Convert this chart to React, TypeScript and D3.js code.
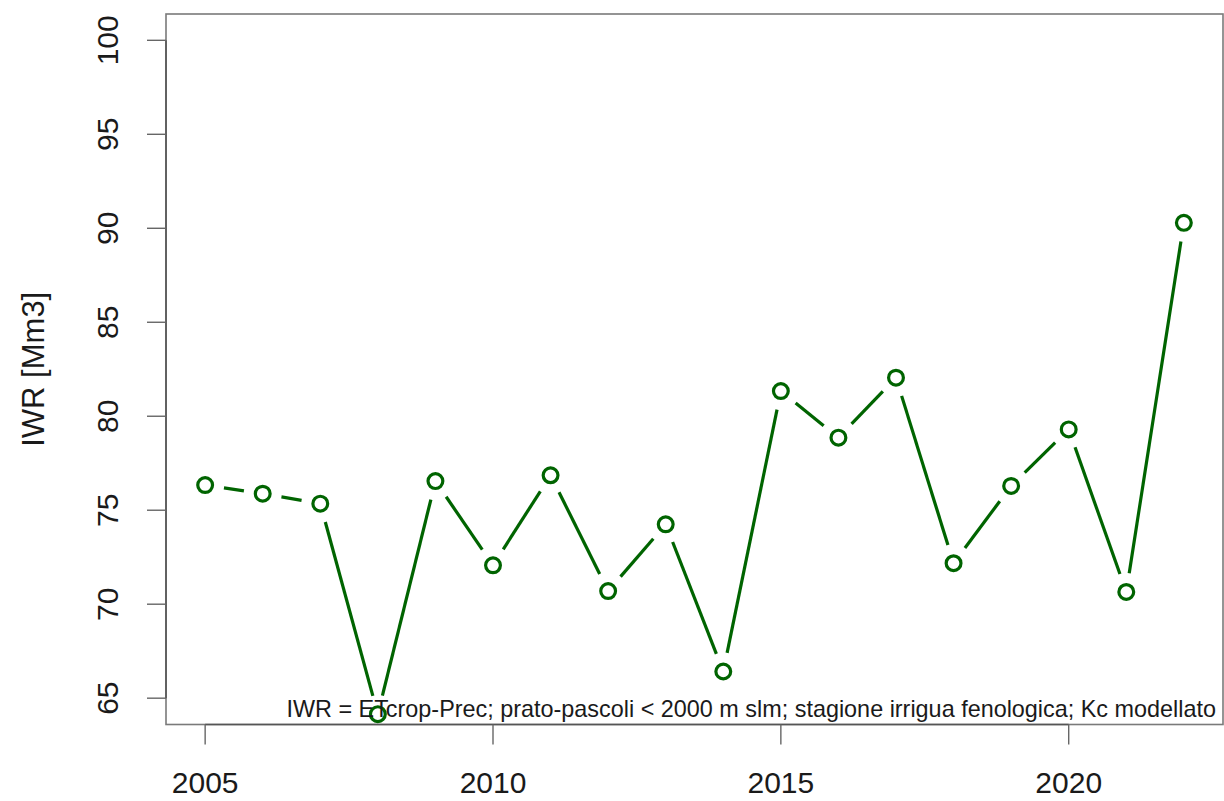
import React from "react";
import * as d3 from "d3";

const years = [2005, 2006, 2007, 2008, 2009, 2010, 2011, 2012, 2013, 2014, 2015, 2016, 2017, 2018, 2019, 2020, 2021, 2022];
const iwr = [76.34, 75.88, 75.35, 64.15, 76.55, 72.07, 76.86, 70.7, 74.25, 66.42, 81.34, 78.86, 82.05, 72.18, 76.29, 79.3, 70.65, 90.29];
const xTicks = [2005, 2010, 2015, 2020];
const yTicks = [65, 70, 75, 80, 85, 90, 95, 100];
const yLabel = "IWR [Mm3]";
const note = "IWR = ETcrop-Prec; prato-pascoli < 2000 m slm; stagione irrigua fenologica; Kc modellato";

const W = 1224;
const H = 801;
const left = 166;
const right = 1223;
const top = 14;
const bottom = 724.5;
const font = "'Liberation Sans', Arial, Helvetica, sans-serif";
const green = "#006400";

export default function App() {
  const xPad = (2022 - 2005) * 0.04;
  const x = d3.scaleLinear().domain([2005 - xPad, 2022 + xPad]).range([left, right]);
  const yPad = (100 - 65) * 0.04;
  const y = d3.scaleLinear().domain([65 - yPad, 100 + yPad]).range([bottom, top]);

  const pts = years.map((yr, i) => [x(yr), y(iwr[i])] as [number, number]);
  const gap = 19;
  const segs: [number, number, number, number][] = [];
  for (let i = 0; i < pts.length - 1; i++) {
    const [x0, y0] = pts[i];
    const [x1, y1] = pts[i + 1];
    const dx = x1 - x0, dy = y1 - y0;
    const len = Math.hypot(dx, dy);
    if (len <= 2 * gap) continue;
    const ux = dx / len, uy = dy / len;
    segs.push([x0 + ux * gap, y0 + uy * gap, x1 - ux * gap, y1 - uy * gap]);
  }

  return (
    <svg width={W} height={H} style={{ position: "absolute", left: 0, top: 0, background: "#fff" }} fontFamily={font}>
      <rect x={0} y={0} width={W} height={H} fill="#fff" />
      {/* plot box */}
      <rect x={left} y={top} width={right - left} height={bottom - top} fill="none" stroke="#7a7a7a" strokeWidth={1.6} />
      {/* y axis */}
      <line x1={left} x2={left} y1={y(65)} y2={y(100)} stroke="#555" strokeWidth={1.6} />
      {yTicks.map((t) => (
        <g key={t}>
          <line x1={left - 19} x2={left} y1={y(t)} y2={y(t)} stroke="#666" strokeWidth={1.4} />
          <text
            transform={`translate(${118},${y(t)}) rotate(-90)`}
            textAnchor="middle"
            fontSize={30}
            fill="#1a1a1a"
          >
            {t}
          </text>
        </g>
      ))}
      {/* x axis */}
      <line x1={x(2005)} x2={x(2020)} y1={bottom} y2={bottom} stroke="#555" strokeWidth={1.6} />
      {xTicks.map((t) => (
        <g key={t}>
          <line x1={x(t)} x2={x(t)} y1={bottom} y2={bottom + 20} stroke="#666" strokeWidth={1.4} />
          <text x={x(t)} y={793} textAnchor="middle" fontSize={30} fill="#1a1a1a">
            {t}
          </text>
        </g>
      ))}
      {/* y label */}
      <text transform={`translate(${44},${(top + bottom) / 2}) rotate(-90)`} textAnchor="middle" fontSize={31} fill="#1a1a1a">
        {yLabel}
      </text>
      {/* line segments */}
      {segs.map((s, i) => (
        <line key={i} x1={s[0]} y1={s[1]} x2={s[2]} y2={s[3]} stroke={green} strokeWidth={3.2} strokeLinecap="butt" />
      ))}
      {pts.map((p, i) => (
        <circle key={i} cx={p[0]} cy={p[1]} r={7.4} fill="none" stroke={green} strokeWidth={3.2} />
      ))}
      {/* note */}
      <text x={1216} y={717} textAnchor="end" fontSize={23.4} fill="#1a1a1a">
        {note}
      </text>
    </svg>
  );
}
